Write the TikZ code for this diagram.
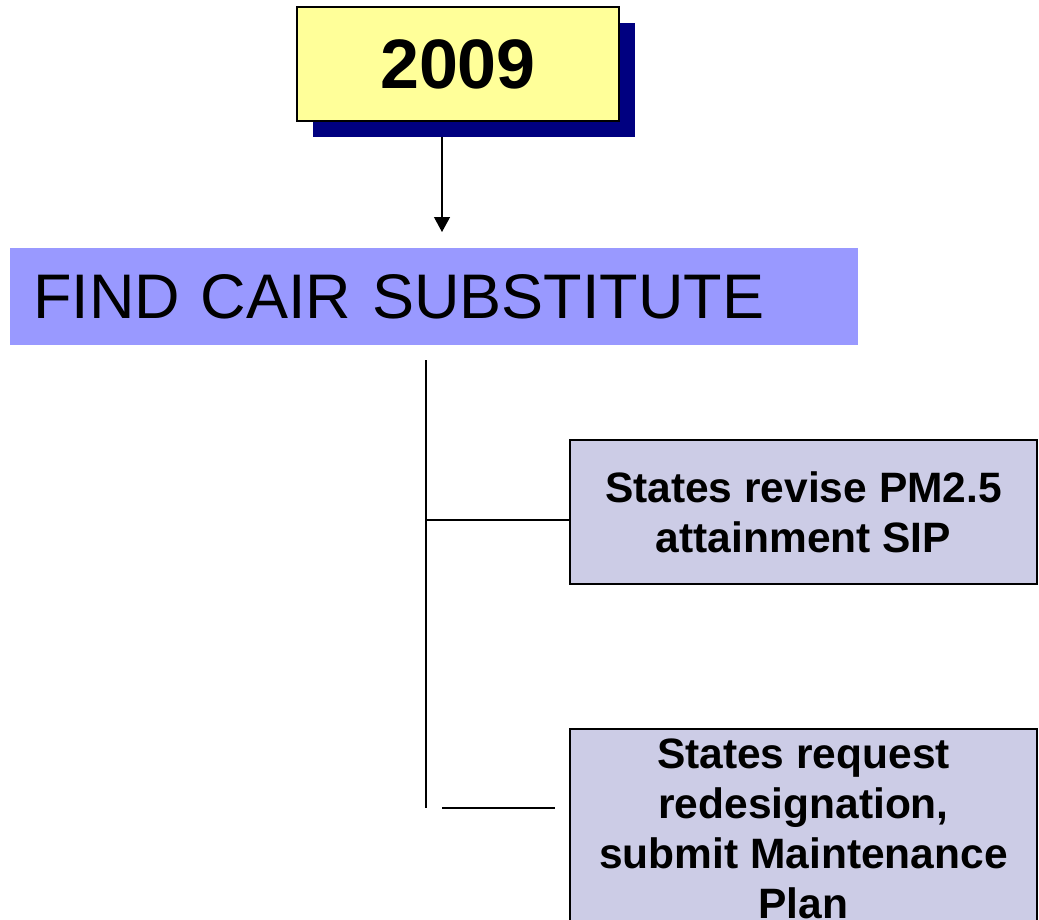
\documentclass[tikz,border=0pt]{standalone}
\usepackage{fontspec}
\setmainfont{Liberation Sans}
\usetikzlibrary{positioning,arrows.meta,shadows}

\definecolor{yearyellow}{RGB}{255,255,153}
\definecolor{shadownavy}{RGB}{0,0,128}
\definecolor{headblue}{RGB}{153,153,255}
\definecolor{steplav}{RGB}{204,204,230}

\begin{document}
\begin{tikzpicture}[x=1pt,y=-1pt]

  \clip (0,0) rectangle (1039,919);

  \node[draw,line width=1.5pt,fill=yearyellow,minimum width=322,minimum height=114,
        drop shadow={fill=shadownavy,opacity=1,shadow xshift=16pt,shadow yshift=-16pt},
        font=\bfseries\fontsize{70}{80}\selectfont] (Ye) at (458,64) {2009};

  \node[fill=headblue,text width=802,inner xsep=23,minimum height=97,align=left,
        font=\fontsize{63}{75}\selectfont] (Fi) at (434,296.5) {FIND CAIR SUBSTITUTE};

  \node[draw,line width=1.5pt,fill=steplav,minimum width=467,minimum height=144,align=center,
        font=\bfseries\fontsize{42.5}{50}\selectfont] (Re) at (803.5,512) {States revise PM2.5\\attainment SIP};
  \node[draw,line width=1.5pt,fill=steplav,minimum width=467,minimum height=200,align=center,anchor=north,
        font=\bfseries\fontsize{42.5}{50}\selectfont] (Rd) at (803.5,728) {States request\\redesignation,\\submit Maintenance\\Plan};

  % arrow from year to heading
  \coordinate (YeOut) at (442,137);
  \coordinate (FiIn) at (442,232);
  \draw[-{Triangle[width=16pt,length=15pt]},line width=1.2pt] (YeOut) to (FiIn);

  % tree lines
  \coordinate (TrTop) at (426,360);
  \coordinate (TrBot) at (426,808);
  \coordinate (TrRe) at (426,520);
  \coordinate (LoA) at (442,808);
  \coordinate (LoB) at (555,808);
  \draw[line width=1.2pt] (TrTop) to (TrBot);
  \draw[line width=1.2pt] (TrRe) to (TrRe-|Re.west);
  \draw[line width=1.2pt] (LoA) to (LoB);

\end{tikzpicture}
\end{document}
